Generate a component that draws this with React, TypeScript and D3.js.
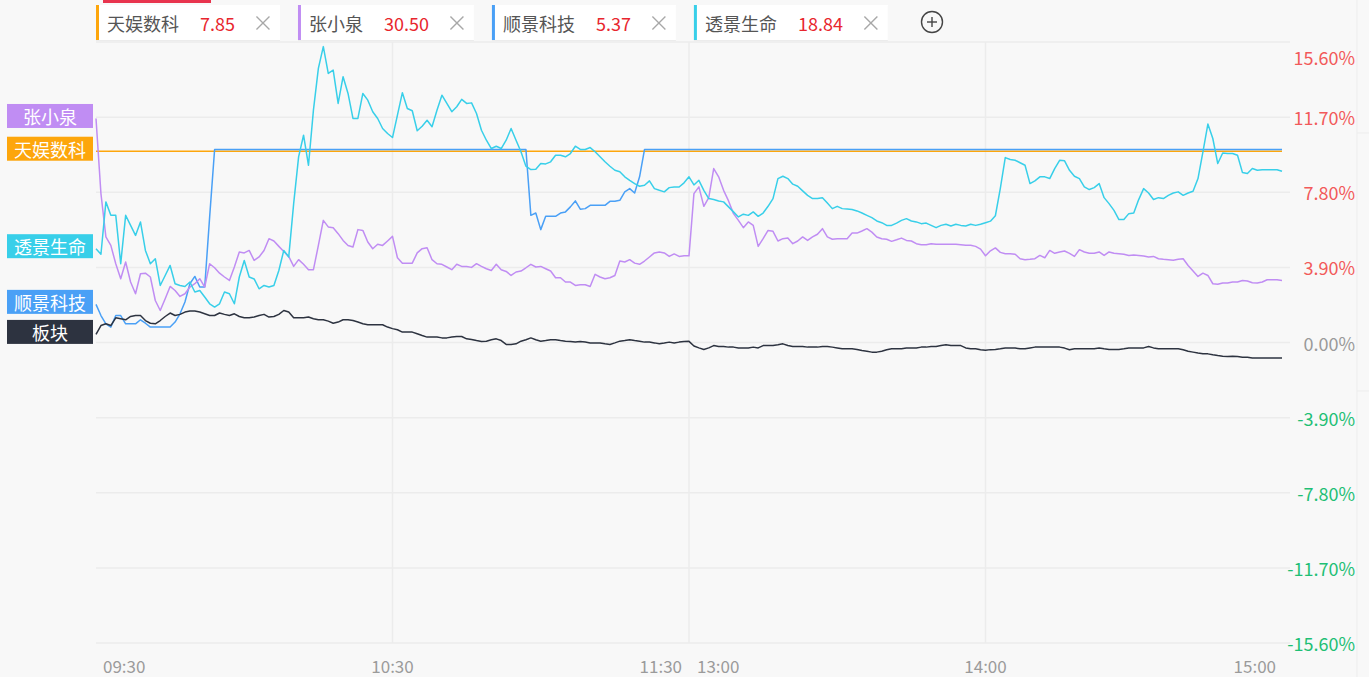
import React, { useEffect, useMemo } from 'react';
import * as d3 from 'd3';

// ---------- data ----------
const timeTickLabels = ['09:30', '10:30', '11:30', '13:00', '14:00', '15:00'];
const timeTickMinutes = [0, 60, 120, 120, 180, 240];
const pctTicks = [15.6, 11.7, 7.8, 3.9, 0, -3.9, -7.8, -11.7, -15.6];

const legendNames = ['天娱数科', '张小泉', '顺景科技', '透景生命'];
const legendPrices = ['7.85', '30.50', '5.37', '18.84'];

// 透景生命 (per minute, 0 = 09:30, 240 = 15:00)
const tjsmValues = [
  4.87, 4.58, 7.3, 6.6, 6.6, 4.09, 6.6, 6.08, 5.56, 6.26,
  4.78, 4.09, 4.35, 2.96, 3.48, 4.0, 3.05, 2.96, 2.91, 3.14,
  2.62, 2.7, 2.36, 2.01, 1.84, 2.01, 2.62, 2.53, 2.01, 3.4,
  4.26, 3.4, 3.3, 2.79, 2.96, 2.88, 2.96, 3.74, 4.78, 4.44,
  7.21, 9.64, 10.76, 9.2, 12.06, 14.23, 15.36, 13.97, 14.14, 12.41,
  13.8, 12.93, 11.63, 11.63, 12.93, 12.58, 11.98, 11.63, 11.11, 10.85,
  10.64, 11.8, 12.97, 12.15, 12.03, 10.99, 11.23, 11.54, 11.2, 12.06,
  12.84, 12.41, 11.98, 12.24, 12.62, 12.41, 12.44, 11.89, 11.02, 10.5,
  10.07, 10.19, 10.07, 10.5, 11.11, 10.5, 9.9, 9.15, 8.98, 9.0,
  9.29, 9.27, 9.38, 9.72, 9.72, 9.64, 9.81, 10.19, 10.02, 10.02,
  10.12, 9.9, 9.64, 9.38, 9.15, 8.94, 8.86, 8.6, 8.42, 8.25,
  8.11, 8.16, 8.39, 7.99, 7.9, 7.82, 8.04, 8.07, 8.07, 8.29,
  8.6, 8.18, 8.42, 7.9, 7.47, 7.42, 7.35, 7.3, 7.04, 6.78,
  6.52, 6.66, 6.6, 6.78, 6.55, 6.72, 7.07, 7.47, 8.51, 8.63,
  8.51, 8.22, 8.11, 7.87, 7.64, 7.47, 7.47, 7.52, 7.24, 6.95,
  7.07, 6.95, 6.93, 6.9, 6.83, 6.72, 6.6, 6.48, 6.31, 6.22,
  6.08, 6.08, 6.2, 6.34, 6.43, 6.31, 6.26, 6.17, 6.2, 6.08,
  5.96, 6.08, 6.14, 6.05, 6.14, 6.08, 6.05, 6.14, 6.08, 6.14,
  6.22, 6.3, 6.58, 8.0, 9.6, 9.5, 9.46, 9.33, 9.2, 8.25,
  8.39, 8.6, 8.6, 8.51, 9.03, 9.46, 9.43, 8.94, 8.63, 8.51,
  8.08, 7.94, 8.04, 8.25, 7.52, 7.21, 6.86, 6.38, 6.38, 6.69,
  6.72, 7.42, 7.99, 7.76, 7.42, 7.52, 7.47, 7.64, 7.76, 7.82,
  7.64, 7.76, 7.85, 8.51, 9.9, 11.34, 10.59, 9.29, 9.84, 9.81,
  9.81, 9.72, 8.82, 8.77, 9.03, 8.94, 8.97, 8.97, 8.97, 8.97,
  8.89,
];

// 张小泉
const zxqValues = [
  11.63, 7.73, 5.48, 5.04, 4.09, 3.31, 4.18, 3.14, 2.53, 3.57,
  3.6, 3.4, 2.18, 1.66, 2.27, 2.91, 2.7, 2.39, 2.53, 2.88,
  3.05, 3.31, 2.88, 4.09, 3.88, 3.6, 3.4, 3.22, 3.92, 4.7,
  4.65, 4.78, 4.26, 4.44, 4.78, 5.39, 5.27, 4.99, 4.72, 4.47,
  3.95, 4.3, 4.06, 3.78, 3.78, 5.04, 6.34, 6.0, 5.96, 5.65,
  5.3, 5.04, 4.96, 5.86, 5.82, 5.22, 4.87, 5.1, 5.04, 5.27,
  5.51, 4.4, 4.12, 4.12, 4.12, 4.65, 4.87, 4.92, 4.3, 4.09,
  4.06, 3.92, 3.78, 4.06, 3.95, 3.95, 3.9, 4.09, 3.95, 3.83,
  3.74, 4.06, 3.78, 3.69, 3.48, 3.66, 3.71, 3.88, 4.06, 3.92,
  3.95, 3.83, 3.71, 3.36, 3.36, 3.14, 3.14, 2.96, 3.0, 3.0,
  2.91, 3.54, 3.4, 3.31, 3.36, 3.48, 4.23, 4.18, 4.3, 4.12,
  4.06, 4.23, 4.44, 4.65, 4.7, 4.65, 4.47, 4.6, 4.47, 4.5,
  4.5, 7.73, 8.08, 7.07, 7.52, 9.03, 8.6, 7.9, 7.35, 6.69,
  6.34, 5.96, 6.26, 6.08, 4.99, 5.39, 5.82, 5.77, 5.27, 5.39,
  5.42, 5.13, 5.27, 5.48, 5.3, 5.48, 5.62, 5.91, 5.48, 5.36,
  5.39, 5.39, 5.39, 5.68, 5.68, 5.79, 5.91, 5.73, 5.48, 5.39,
  5.36, 5.25, 5.33, 5.42, 5.3, 5.27, 5.13, 5.08, 5.08, 5.13,
  5.1, 5.1, 5.1, 5.1, 5.1, 5.08, 5.05, 5.05, 4.99, 4.85,
  4.5, 4.76, 4.91, 4.68, 4.61, 4.61, 4.58, 4.35, 4.3, 4.32,
  4.35, 4.52, 4.4, 4.78, 4.63, 4.7, 4.75, 4.63, 4.47, 4.82,
  4.7, 4.63, 4.63, 4.7, 4.52, 4.7, 4.63, 4.61, 4.58, 4.52,
  4.54, 4.52, 4.49, 4.44, 4.47, 4.35, 4.32, 4.3, 4.27, 4.32,
  4.35, 4.0, 3.71, 3.43, 3.6, 3.48, 3.05, 3.02, 3.09, 3.09,
  3.14, 3.14, 3.22, 3.19, 3.1, 3.09, 3.14, 3.26, 3.26, 3.26,
  3.22,
];

// 板块
const sectorValues = [
  0.42, 0.88, 0.97, 0.88, 1.28, 1.23, 1.18, 1.35, 1.4, 1.4,
  1.14, 1.0, 0.97, 1.14, 1.35, 1.53, 1.4, 1.46, 1.58, 1.63,
  1.63, 1.58, 1.49, 1.4, 1.4, 1.53, 1.46, 1.4, 1.49, 1.35,
  1.28, 1.28, 1.32, 1.4, 1.46, 1.32, 1.35, 1.46, 1.66, 1.58,
  1.28, 1.28, 1.28, 1.32, 1.23, 1.18, 1.18, 1.11, 1.0, 1.06,
  1.18, 1.18, 1.14, 1.06, 0.97, 0.92, 0.92, 0.92, 0.92, 0.8,
  0.72, 0.66, 0.54, 0.54, 0.54, 0.45, 0.36, 0.28, 0.28, 0.28,
  0.24, 0.24, 0.28, 0.31, 0.31, 0.19, 0.16, 0.1, 0.05, 0.07,
  0.14, 0.19, 0.1, -0.1, -0.1, -0.07, 0.07, 0.14, 0.24, 0.14,
  0.07, 0.1, 0.14, 0.14, 0.1, 0.07, 0.05, 0.02, 0.05, 0.02,
  -0.02, -0.02, -0.03, -0.07, -0.1, -0.02, 0.07, 0.1, 0.14, 0.1,
  0.07, 0.02, 0.02, -0.02, -0.07, -0.03, 0.02, -0.03, 0.02, 0.05,
  0.06, -0.18, -0.28, -0.36, -0.28, -0.16, -0.21, -0.21, -0.24, -0.24,
  -0.28, -0.29, -0.29, -0.24, -0.28, -0.16, -0.16, -0.16, -0.12, -0.07,
  -0.16, -0.21, -0.21, -0.21, -0.24, -0.24, -0.24, -0.21, -0.21, -0.24,
  -0.28, -0.33, -0.33, -0.33, -0.36, -0.42, -0.45, -0.5, -0.5, -0.45,
  -0.38, -0.33, -0.33, -0.33, -0.29, -0.29, -0.28, -0.24, -0.24, -0.21,
  -0.21, -0.16, -0.12, -0.16, -0.16, -0.16, -0.28, -0.33, -0.33, -0.38,
  -0.4, -0.37, -0.36, -0.33, -0.29, -0.29, -0.29, -0.33, -0.33, -0.28,
  -0.24, -0.24, -0.24, -0.24, -0.24, -0.24, -0.29, -0.38, -0.33, -0.33,
  -0.33, -0.33, -0.33, -0.29, -0.33, -0.36, -0.36, -0.36, -0.33, -0.29,
  -0.28, -0.28, -0.28, -0.21, -0.28, -0.33, -0.33, -0.33, -0.33, -0.33,
  -0.38, -0.45, -0.5, -0.55, -0.59, -0.59, -0.64, -0.68, -0.71, -0.73,
  -0.71, -0.73, -0.76, -0.76, -0.8, -0.8, -0.81, -0.8, -0.8, -0.8,
  -0.8,
];

// 顺景科技 (minute, value) pairs
const sjkjMinutes = [
  0, 1, 2, 3, 4, 5, 6, 7, 8, 9, 10, 11, 15, 16, 17, 18, 19, 20, 21, 22, 23, 24,
  87, 88, 89, 90, 91, 92, 93, 94, 95, 96, 97, 98, 99, 100, 103, 104, 105, 106,
  107, 108, 109, 110, 111, 240,
];
const sjkjValues = [
  1.98, 1.4, 0.97, 0.8, 1.4, 1.4, 0.97, 0.97, 0.97, 1.18, 1.0, 0.8, 0.8, 1.06,
  1.49, 2.1, 3.05, 3.43, 2.88, 2.88, 6.52, 10.02,
  10.02, 6.6, 6.72, 5.86, 6.55, 6.55, 6.55, 6.72, 6.78, 7.04, 7.35, 6.92, 6.95,
  7.12, 7.12, 7.33, 7.33, 7.38, 7.82, 7.99, 7.76, 8.6, 10.02, 10.02,
];

// 天娱数科 (limit-up whole day)
const tysktMinutes = [0, 240];
const tysktValues = [9.93, 9.93];

// ---------- styles ----------
const seriesColor: Record<string, string> = {
  天娱数科: '#fda60c',
  张小泉: '#c08df3',
  顺景科技: '#4aa0f6',
  透景生命: '#38cfe9',
  板块: '#2d3340',
};

const FONT = '"Noto Sans CJK SC", "Noto Sans", sans-serif';
const W = 1369;
const H = 677;

function measure(text: string, size: number) {
  const c = document.createElement('canvas').getContext('2d');
  if (!c) return text.length * size * 0.6;
  c.font = `${size}px ${FONT}`;
  return c.measureText(text).width;
}

export default function App() {
  useEffect(() => {
    document.body.style.margin = '0';
    document.body.style.background = '#f8f8f8';
  }, []);

  const x = d3.scaleLinear().domain([0, 240]).range([96, 1282]);
  const y = d3.scaleLinear().domain([-15.6, 15.6]).range([643, 42]);

  const series = useMemo(() => {
    const idx = (arr: number[]) => arr.map((v, i) => [i, v] as [number, number]);
    const pairs = (t: number[], v: number[]) => t.map((m, i) => [m, v[i]] as [number, number]);
    return [
      { name: '天娱数科', pts: pairs(tysktMinutes, tysktValues) },
      { name: '顺景科技', pts: pairs(sjkjMinutes, sjkjValues) },
      { name: '张小泉', pts: idx(zxqValues) },
      { name: '透景生命', pts: idx(tjsmValues) },
      { name: '板块', pts: idx(sectorValues) },
    ];
  }, []);

  const line = d3
    .line<[number, number]>()
    .x((d) => x(d[0]))
    .y((d) => y(d[1]));

  // legend chip layout
  const chips = useMemo(() => {
    let cx = 96;
    return legendNames.map((name, i) => {
      const nameW = measure(name, 18);
      const valW = measure(legendPrices[i], 18);
      const start = cx;
      const nameX = start + 11;
      const valueX = nameX + nameW + 21;
      const closeX = valueX + valW + 28;
      const end = closeX + 17;
      cx = end + 18;
      return { name, price: legendPrices[i], start, end, nameX, valueX, closeX };
    });
  }, []);

  const tickColor = (v: number) => (v > 0 ? '#f25a5a' : v < 0 ? '#1fbf75' : '#9a9a9a');

  const labelOrder = ['张小泉', '天娱数科', '透景生命', '顺景科技', '板块'];

  return (
    <svg width={W} height={H} style={{ display: 'block', background: '#f8f8f8', fontFamily: FONT }}>
      <rect x={0} y={0} width={W} height={H} fill="#f8f8f8" />
      {/* right panel border */}
      <line x1={1357} x2={1357} y1={0} y2={H} stroke="#ededed" strokeWidth={1} />
      <line x1={1357} x2={W} y1={133} y2={133} stroke="#ededed" strokeWidth={1} />
      <line x1={1357} x2={W} y1={391} y2={391} stroke="#ededed" strokeWidth={1} />

      {/* horizontal grid */}
      {pctTicks.map((t) => (
        <line key={'h' + t} x1={96} x2={1290} y1={y(t)} y2={y(t)} stroke="#ececec" strokeWidth={1.5} />
      ))}
      {/* vertical grid */}
      {[60, 120, 180].map((m) => (
        <line key={'v' + m} x1={x(m)} x2={x(m)} y1={y(15.6)} y2={y(-15.6)} stroke="#ececec" strokeWidth={1.5} />
      ))}

      {/* right axis labels */}
      {pctTicks.map((t, i) => (
        <text
          key={'t' + t}
          x={1355}
          y={y(t) + (i === 0 ? 15 : 0)}
          textAnchor="end"
          dominantBaseline="central"
          fontSize={18}
          fill={tickColor(t)}
        >
          {t.toFixed(2) + '%'}
        </text>
      ))}

      {/* time labels */}
      {timeTickLabels.map((lab, i) => {
        const m = timeTickMinutes[i];
        let anchor: 'start' | 'middle' | 'end' = 'middle';
        let px = x(m);
        if (i === 0) {
          anchor = 'start';
          px = x(m) + 7;
        } else if (i === timeTickLabels.length - 1) {
          anchor = 'end';
          px = x(m) - 6;
        } else if (lab === '11:30') {
          anchor = 'end';
          px = x(m) - 7;
        } else if (lab === '13:00') {
          anchor = 'start';
          px = x(m) + 8;
        }
        return (
          <text key={lab} x={px} y={673} textAnchor={anchor} fontSize={17} fill="#9b9b9b">
            {lab}
          </text>
        );
      })}

      {/* series lines */}
      {series.map((s) => (
        <path
          key={s.name}
          d={line(s.pts) || ''}
          fill="none"
          stroke={seriesColor[s.name]}
          strokeWidth={1.5}
          strokeLinejoin="round"
        />
      ))}

      {/* left labels */}
      {labelOrder.map((name) => {
        const s = series.find((q) => q.name === name)!;
        const cy = y(s.pts[0][1]) - 2.5;
        return (
          <g key={'lab' + name}>
            <rect x={7} y={cy - 12} width={86} height={24} fill={seriesColor[name]} />
            <text x={50} y={cy} textAnchor="middle" dominantBaseline="central" fontSize={18} fill="#ffffff">
              {name}
            </text>
          </g>
        );
      })}

      {/* legend chips */}
      <rect x={103} y={0} width={108} height={3} fill="#e8344e" />
      {chips.map((c) => (
        <g key={'chip' + c.name}>
          <rect x={c.start} y={6} width={c.end - c.start} height={35} fill="#ececec" />
          <rect x={c.start} y={5} width={c.end - c.start} height={35} fill="#ffffff" />
          <rect x={c.start} y={5} width={3} height={35} fill={seriesColor[c.name]} />
          <text x={c.nameX} y={23} dominantBaseline="central" fontSize={18} fill="#555555">
            {c.name}
          </text>
          <text x={c.valueX} y={23} dominantBaseline="central" fontSize={18} fill="#e8262e">
            {c.price}
          </text>
          <line x1={c.closeX - 6.5} x2={c.closeX + 6.5} y1={16.5} y2={29.5} stroke="#a8a8a8" strokeWidth={1.4} />
          <line x1={c.closeX - 6.5} x2={c.closeX + 6.5} y1={29.5} y2={16.5} stroke="#a8a8a8" strokeWidth={1.4} />
        </g>
      ))}
      {/* add button */}
      <circle cx={932} cy={22} r={10.5} fill="none" stroke="#444" strokeWidth={1.4} />
      <line x1={927} x2={937} y1={22} y2={22} stroke="#444" strokeWidth={1.4} />
      <line x1={932} x2={932} y1={17} y2={27} stroke="#444" strokeWidth={1.4} />
    </svg>
  );
}
